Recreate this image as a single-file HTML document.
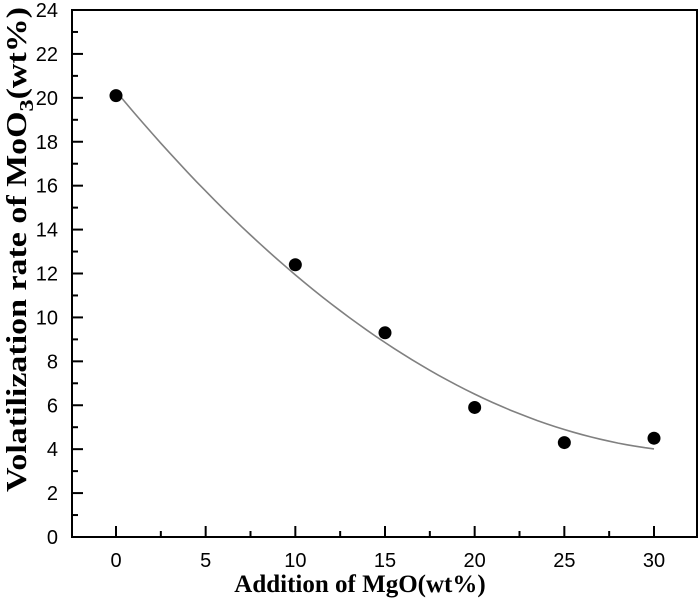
<!DOCTYPE html>
<html><head><style>
html,body{margin:0;padding:0;background:#fff;}
svg{display:block;}
</style></head><body>
<svg id="s" width="700" height="606" xmlns="http://www.w3.org/2000/svg">
<rect x="72" y="10" width="625" height="527" fill="none" stroke="#000" stroke-width="2"/>
<g id="ticks" stroke="#000" stroke-width="2"></g>
<g id="lab" font-family="Liberation Sans, sans-serif" font-size="20" fill="#000"></g>
<path id="curve" fill="none" stroke="#808080" stroke-width="1.6"/>
<g id="pts" fill="#000"></g>
<text x="360" y="592" text-anchor="middle" font-family="Liberation Serif, serif" font-weight="bold" font-size="25">Addition of MgO(wt%)</text>
<text transform="translate(26,492) rotate(-90)" text-anchor="start" font-family="Liberation Serif, serif" font-weight="bold" font-size="28" textLength="485" lengthAdjust="spacingAndGlyphs">Volatilization rate of MoO<tspan font-size="20" dy="7">3</tspan><tspan dy="-7">(wt%)</tspan></text>
</svg>
<script>
var X=function(v){return 116+v*(654-116)/30;},Y=function(v){return 537-v*(527/24);};
var t=document.getElementById('ticks'),l=document.getElementById('lab'),ns='http://www.w3.org/2000/svg';
function ln(x1,y1,x2,y2){var e=document.createElementNS(ns,'line');e.setAttribute('x1',x1);e.setAttribute('y1',y1);e.setAttribute('x2',x2);e.setAttribute('y2',y2);t.appendChild(e);}
function tx(x,y,s,a){var e=document.createElementNS(ns,'text');e.setAttribute('x',x);e.setAttribute('y',y);e.setAttribute('text-anchor',a);e.textContent=s;l.appendChild(e);}
for(var v=0;v<=24;v++){var y=Y(v);if(v%2==0){ln(72,y,83,y);tx(58,y+7,v,'end');}else ln(72,y,78,y);}
for(var v=0;v<=30;v+=2.5){var x=X(v);if(v%5==0){ln(x,537,x,526);tx(x,567,v,'middle');}else ln(x,537,x,531);}
var d='';for(var i=0;i<=60;i++){var v=i/2,f=20.3-0.983*v+0.01467*v*v;d+=(i?'L':'M')+X(v).toFixed(1)+' '+Y(f).toFixed(1);}
document.getElementById('curve').setAttribute('d',d);
var P=[[0,20.1],[10,12.4],[15,9.3],[20,5.9],[25,4.3],[30,4.5]],g=document.getElementById('pts');
P.forEach(function(p){var c=document.createElementNS(ns,'circle');c.setAttribute('cx',X(p[0]));c.setAttribute('cy',Y(p[1]));c.setAttribute('r',6.5);g.appendChild(c);});
</script>
</body></html>
